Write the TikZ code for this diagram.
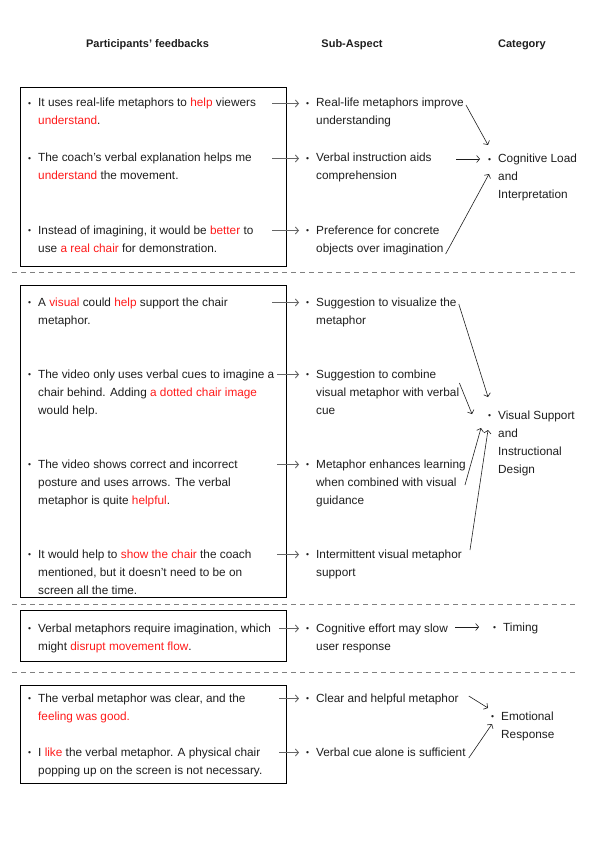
\documentclass[tikz,border=0pt]{standalone}
\usepackage{fontspec}
\setmainfont{Liberation Sans}
\usetikzlibrary{arrows.meta}
\definecolor{txt}{HTML}{1E1E1E}
\definecolor{hlred}{HTML}{FF1A1A}
\definecolor{arrgray}{HTML}{666666}
\definecolor{sepgray}{HTML}{808080}
\newcommand{\hl}[1]{\textcolor{hlred}{#1}}
\newcommand{\blt}{\makebox[10pt][l]{\raisebox{0.3pt}{\fontsize{8.5}{8.5}\selectfont\textbullet}}}
\newcommand{\itm}[1]{\blt\begin{tabular}[t]{@{}l@{}}#1\end{tabular}}
\begin{document}
\begin{tikzpicture}[x=1pt,y=-1pt,
  head/.style={anchor=base,inner sep=0pt,text=txt,font=\bfseries\fontsize{11}{13}\selectfont},
  fb/.style={anchor=base west,inner sep=0pt,text=txt,font=\fontsize{11.8}{18}\selectfont},
  grp/.style={draw=black,line width=0.9pt},
  sep/.style={draw=sepgray,line width=0.8pt,dash pattern=on 5pt off 4pt},
  fbarr/.style={draw=arrgray,line width=0.9pt,-{Straight Barb[length=3pt,width=7pt]}},
  catarr/.style={draw=txt,line width=0.6pt,-{Straight Barb[length=3pt,width=7pt]}}]
\useasboundingbox (0,0) rectangle (595,842);
\node[head] (h1) at (147.5,48) {Participants’ feedbacks};
\node[head] (h2) at (352,48) {Sub-Aspect};
\node[head] (h3) at (522,48) {Category};
\foreach \Y in {272,604,672}
\draw[sep] (12,\Y) -- (577,\Y);
\draw[grp] (20,87) rectangle (286,266);
\draw[grp] (20,285) rectangle (286,597);
\draw[grp] (20,610) rectangle (286,661);
\draw[grp] (20,685) rectangle (286,783);

\node[fb] (f1) at (28,107) {\itm{It uses real-life metaphors to \hl{help} viewers\\\hl{understand}.}};
\node[fb] (f2) at (28,162) {\itm{The coach’s verbal explanation helps me\\\hl{understand} the movement.}};
\node[fb] (f3) at (28,234) {\itm{Instead of imagining, it would be \hl{better} to\\use \hl{a real chair} for demonstration.}};
\node[fb] (f4) at (28,306) {\itm{A \hl{visual} could \hl{help} support the chair\\metaphor.}};
\node[fb] (f5) at (28,378) {\itm{The video only uses verbal cues to imagine a\\chair behind. Adding \hl{a dotted chair image}\\would help.}};
\node[fb] (f6) at (28,468) {\itm{The video shows correct and incorrect\\posture and uses arrows. The verbal\\metaphor is quite \hl{helpful}.}};
\node[fb] (f7) at (28,558) {\itm{It would help to \hl{show the chair} the coach\\mentioned, but it doesn’t need to be on\\screen all the time.}};
\node[fb] (f8) at (28,632) {\itm{Verbal metaphors require imagination, which\\might \hl{disrupt movement flow}.}};
\node[fb] (f9) at (28,702) {\itm{The verbal metaphor was clear, and the\\\hl{feeling was good.}}};
\node[fb] (f10) at (28,756) {\itm{I \hl{like} the verbal metaphor. A physical chair\\popping up on the screen is not necessary.}};

\node[fb] (s1) at (306,107) {\itm{Real-life metaphors improve\\understanding}};
\node[fb] (s2) at (306,162) {\itm{Verbal instruction aids\\comprehension}};
\node[fb] (s3) at (306,234) {\itm{Preference for concrete\\objects over imagination}};
\node[fb] (s4) at (306,306) {\itm{Suggestion to visualize the\\metaphor}};
\node[fb] (s5) at (306,378) {\itm{Suggestion to combine\\visual metaphor with verbal\\cue}};
\node[fb] (s6) at (306,468) {\itm{Metaphor enhances learning\\when combined with visual\\guidance}};
\node[fb] (s7) at (306,558) {\itm{Intermittent visual metaphor\\support}};
\node[fb] (s8) at (306,632) {\itm{Cognitive effort may slow\\user response}};
\node[fb] (s9) at (306,702) {\itm{Clear and helpful metaphor}};
\node[fb] (s10) at (306,756) {\itm{Verbal cue alone is sufficient}};

\node[fb] (c1) at (488,163) {\itm{Cognitive Load\\and\\Interpretation}};
\node[fb] (c2) at (488,419) {\itm{Visual Support\\and\\Instructional\\Design}};
\node[fb] (c3) at (493,631) {\itm{Timing}};
\node[fb] (c4) at (491,720) {\itm{Emotional\\Response}};

\foreach \A/\B/\D in {f1/s1/244,f2/s2/244,f3/s3/244,f4/s4/244,f5/s5/249,f6/s6/249,f7/s7/249,f8/s8/251,f9/s9/251,f10/s10/251}
\draw[fbarr] ([shift={(\D pt,3.5pt)}]\A.base west) -- ([shift={(-7pt,3.5pt)}]\B.base west);

\draw[catarr] ([shift={(2pt,2pt)}]s1.base east) -- ([shift={(0pt,18pt)}]c1.base west);
\draw[catarr] ([shift={(150pt,3pt)}]s2.base west) -- ([shift={(-8pt,4pt)}]c1.base west);
\draw[catarr] ([shift={(2pt,-20pt)}]s3.base east) -- ([shift={(1pt,-11pt)}]c1.base west);
\draw[catarr] ([shift={(2pt,2pt)}]s4.base east) -- ([shift={(0pt,22pt)}]c2.base west);
\draw[catarr] ([shift={(0pt,-5pt)}]s5.base east) -- ([shift={(-16pt,5pt)}]c2.base west);
\draw[catarr] ([shift={(-1pt,-17pt)}]s6.base east) -- ([shift={(-7pt,-9pt)}]c2.base west);
\draw[catarr] ([shift={(8pt,8pt)}]s7.base east) -- ([shift={(0pt,-11pt)}]c2.base west);
\draw[catarr] ([shift={(149pt,5pt)}]s8.base west) -- ([shift={(-14pt,4pt)}]c3.base west);
\draw[catarr] ([shift={(10pt,6pt)}]s9.base east) -- ([shift={(-3pt,12pt)}]c4.base west);
\draw[catarr] ([shift={(3pt,-2pt)}]s10.base east) -- ([shift={(1pt,-4pt)}]c4.base west);
\end{tikzpicture}
\end{document}
